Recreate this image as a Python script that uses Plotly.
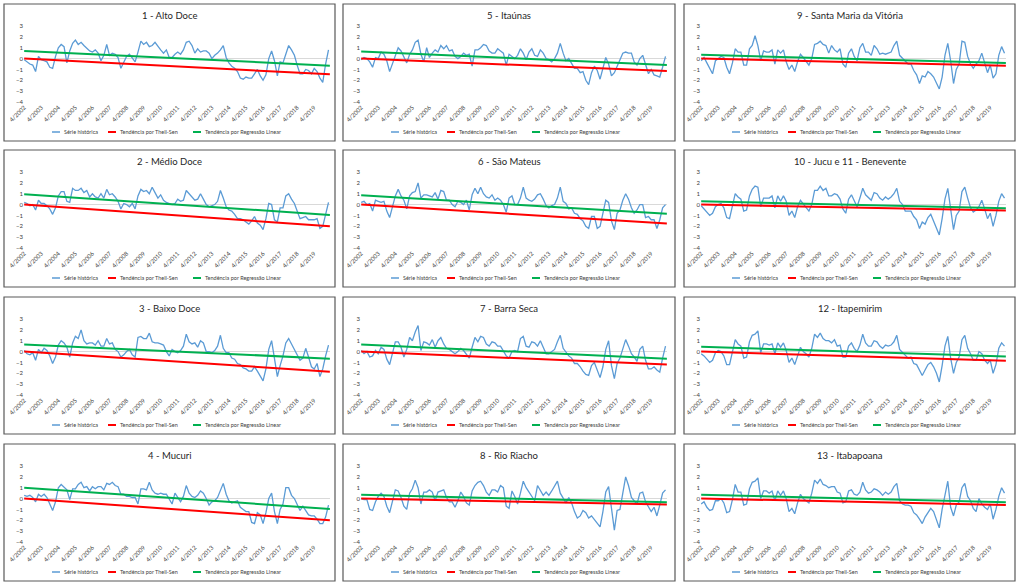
import pandas as pd
import plotly.graph_objects as go

# ---------------- data ----------------
MONTHS = pd.date_range("2002-04-01", periods=108, freq="2MS")  # bimonthly sampling of the monthly series
TREND_DATES = ["2002-04-01", "2020-03-01"]
X_RANGE = ["2002-03-28", "2020-03-04"]
TICK_DATES = [f"{y}-04-01" for y in range(2002, 2020)]
TICK_LABELS = [f"4/{y}" for y in range(2002, 2020)]

TITLES = ["1 - Alto Doce", "5 - Itaúnas", "9 - Santa Maria da Vitória",
          "2 - Médio Doce", "6 - São Mateus", "10 - Jucu e 11 - Benevente",
          "3 - Baixo Doce", "7 - Barra Seca", "12 - Itapemirim",
          "4 - Mucuri", "8 - Rio Riacho", "13 - Itabapoana"]

ALTO_DOCE = [-0.1, -0.3, -0.5, -0.6, -1.2, 0.2, -0.1, -0.2, -0.3, -0.8,
             -0.9, 0.2, 1.0, 1.3, 1.1, -0.4, 0.7, 1.4, 1.7, 1.3,
             1.5, 1.2, 0.9, 0.7, 0.6, 0.8, 0.5, -0.2, 0.3, 1.3,
             0.3, 0.5, 0.4, 0.1, -0.9, -0.3, 0.2, 0.4, 0.1, -0.3,
             0.6, 1.6, 1.3, 1.5, 1.1, 1.2, 1.5, 1.1, 0.8, 0.5,
             0.8, 0.1, 0.1, 0.4, 0.6, 0.4, 0.8, 1.5, 1.6, 1.2,
             0.5, 0.9, 0.6, 0.7, 0.7, 0.5, 0.0, 0.3, 0.5, 0.8,
             1.2, 0.1, -0.4, -0.7, -0.9, -1.2, -1.8, -1.9, -1.7, -1.8,
             -1.8, -1.4, -1.0, -1.6, -2.0, -1.5, 0.0, 0.7, -0.2, -1.6,
             -0.3, -0.4, 0.5, 1.2, 0.8, 0.3, -0.6, -1.4, -1.4, -1.0,
             -1.1, -1.4, -0.9, -1.2, -1.8, -2.2, -0.5, 0.8]

ITAUNAS = [-0.1, 0.1, 0.0, -0.3, -0.8, 0.1, 0.0, 0.6, 0.4, -0.2,
           -1.2, -0.4, 0.3, 1.0, 0.7, 0.1, -0.4, 0.4, 0.8, 1.5,
           1.7, 0.4, -0.3, 1.0, 0.1, 0.5, 0.8, 0.6, 1.2, 0.9,
           1.2, 0.7, 0.8, 0.2, 0.0, 0.2, 0.5, 0.3, 0.4, -0.7,
           0.8, 0.8, 1.0, 1.3, 1.2, 0.7, 0.5, 0.5, 0.9, 0.7,
           0.5, -0.6, 0.4, 0.2, 0.0, 0.3, 0.9, 0.5, -0.1, 0.6,
           0.9, 0.3, 0.2, 0.8, 0.5, 0.0, -0.1, -0.3, 0.0, 0.5,
           1.4, 0.5, -0.2, 0.0, -0.5, -0.9, -0.9, -1.3, -1.2, -2.0,
           -2.4, -1.3, -0.7, -1.1, -1.9, -0.9, 0.1, -0.5, -1.6, -1.3,
           -0.7, -0.2, 0.5, 0.6, 0.5, 0.5, -0.3, -0.6, 0.0, 0.3,
           -0.6, -1.4, -1.0, -1.5, -1.6, -1.7, -0.8, 0.2]

SANTA_MARIA_VITORIA = [-0.2, 0.1, -0.4, -0.9, -1.4, -0.2, 0.0, 0.2, 0.1, -0.8,
                       -1.4, -0.4, 0.9, 0.6, 0.6, -0.6, -0.6, 0.9, 1.2, 2.1,
                       1.2, -0.2, 0.7, 0.6, 0.6, 0.8, -0.5, 0.8, 0.5, 0.8,
                       -0.3, -1.0, -0.6, -1.2, -0.3, 0.4, 0.1, -0.2, -0.6, 0.0,
                       1.3, 1.4, 1.6, 1.3, 1.2, 0.5, 1.2, 0.8, 0.6, 0.9,
                       -0.5, -0.8, 0.5, 0.9, 0.2, -0.2, 1.0, 1.4, 0.6, 0.6,
                       0.3, 1.2, 0.9, 0.4, 0.5, 0.4, 0.5, 0.6, 1.2, 1.6,
                       0.3, 0.0, -0.3, -0.5, -0.5, -1.1, -1.5, -2.3, -1.6, -1.7,
                       -1.2, -1.4, -1.7, -2.3, -2.8, -1.7, 0.3, 1.4, -0.2, -2.3,
                       -1.0, -0.5, 1.6, 1.5, 0.2, -0.5, -0.9, -0.5, -0.2, 0.5,
                       -0.5, -1.3, -0.6, -1.8, -1.4, 0.3, 1.1, 0.5]

MEDIO_DOCE = [0.2, 0.1, -0.1, 0.0, -0.5, 0.4, 0.1, 0.1, -0.1, -0.4,
              -0.9, -0.3, 0.8, 1.2, 1.2, 0.3, 0.2, 1.5, 1.3, 1.3,
              1.5, 1.1, 1.3, 0.7, 1.0, 0.7, 0.6, 1.0, 0.6, 1.4,
              0.9, 1.0, 0.7, 0.3, -0.4, 0.1, 0.0, -0.2, 0.1, -0.4,
              0.8, 1.4, 1.2, 1.3, 1.0, 1.6, 1.1, 0.6, 0.9, 0.4,
              0.2, 0.1, 0.0, 0.1, 0.5, 0.3, 0.4, 1.3, 1.0, 0.6,
              0.4, 0.5, 1.0, 0.5, 0.0, -0.2, -0.1, 0.0, 0.3, 1.3,
              0.6, -0.2, -0.5, -0.6, -0.9, -1.3, -1.3, -1.4, -1.6, -1.8,
              -1.5, -1.1, -1.7, -1.9, -2.3, -1.3, 0.1, 0.0, -1.4, -1.6,
              -0.3, -0.3, 0.8, 1.0, 0.5, 0.1, -0.6, -1.3, -1.2, -1.1,
              -1.4, -1.4, -1.4, -1.3, -2.2, -2.0, -0.8, 0.2]

SAO_MATEUS = [0.2, 0.3, 0.0, 0.1, -0.6, 0.4, 0.3, 0.2, 0.3, -0.6,
              -1.2, -0.3, 0.8, 1.4, 0.8, 0.4, -0.4, 0.8, 1.1, 1.2,
              2.0, 0.6, 0.9, 0.9, 0.8, 0.7, 1.1, 0.5, 1.3, 1.2,
              0.4, 0.4, 0.0, -0.2, 0.3, 0.2, 0.0, 0.4, -0.5, 0.9,
              1.5, 1.0, 1.6, 1.0, 0.7, 0.6, 0.9, 0.4, 0.6, 0.4,
              0.0, -0.7, 0.6, 0.8, 0.0, 0.0, 0.6, 1.6, 0.6, 0.4,
              0.3, 0.5, 0.9, 1.0, 0.5, -0.1, -0.3, -0.1, 0.0, 0.6,
              1.6, 0.3, 0.1, -0.4, -0.3, -0.8, -0.9, -1.3, -1.5, -2.0,
              -2.2, -1.1, -1.1, -2.2, -2.0, -0.7, 0.4, 0.2, -1.5, -2.3,
              -0.8, -0.5, 0.4, 1.0, 0.5, -0.3, -0.8, -0.5, 0.0, 0.0,
              -1.2, -1.1, -1.4, -1.4, -2.2, -1.4, -0.3, 0.0]

JUCU_BENEVENTE = [-0.1, -0.4, -0.6, -1.0, -0.8, -0.2, 0.0, 0.1, -0.3, -1.2,
                  -1.3, -0.1, 1.0, 0.7, 0.5, -0.6, -0.5, 0.8, 1.4, 1.7,
                  1.6, -0.2, 0.6, 0.6, 0.6, 0.8, -0.3, 0.8, 0.3, 0.8,
                  0.3, -1.0, -0.6, -1.2, -0.2, 0.4, 0.1, -0.2, -0.6, 0.0,
                  1.3, 1.3, 1.7, 1.3, 1.5, 0.8, 0.8, 1.0, 0.9, 0.5,
                  -0.4, -0.8, 0.5, 0.9, 0.3, -0.2, 0.6, 1.5, 0.9, 0.6,
                  0.4, 1.1, 1.0, 0.6, 0.4, 0.7, 0.5, 0.7, 1.0, 1.5,
                  0.3, 0.0, -0.6, -0.6, -0.6, -1.1, -1.4, -2.2, -1.6, -1.8,
                  -1.2, -0.9, -1.5, -2.2, -2.8, -1.3, 0.5, 1.5, -0.2, -2.3,
                  -1.0, -0.6, 1.2, 1.6, 0.6, -0.3, -0.7, -0.5, -0.2, 0.4,
                  -0.4, -1.3, -0.8, -2.0, -1.0, 0.3, 1.0, 0.6]

BAIXO_DOCE = [0.1, -0.2, -0.3, -0.1, -0.8, 0.2, -0.1, 0.3, 0.1, -0.4,
              -1.1, -0.5, 0.6, 1.0, 0.8, 0.4, -0.5, 0.8, 1.4, 1.2,
              2.0, 1.0, 0.7, 0.8, 0.8, 0.6, 1.0, 0.5, 0.5, 1.2,
              0.7, 0.8, 0.2, 0.0, -0.5, -0.3, 0.0, 0.2, -0.3, -0.5,
              1.3, 1.4, 1.2, 1.2, 1.7, 0.9, 0.8, 0.8, 0.7, 0.6,
              0.0, -0.4, 0.2, 0.0, -0.1, 0.1, 0.5, 1.6, 0.9, 0.7,
              0.8, 0.4, 1.0, 0.8, 0.0, 0.0, -0.1, 0.1, 0.5, 1.5,
              0.3, -0.1, -0.1, -0.6, -0.7, -1.1, -1.2, -1.5, -1.6, -1.8,
              -1.8, -1.4, -1.8, -2.3, -2.7, -1.6, 0.2, 1.0, -0.6, -2.3,
              -1.3, -0.4, 0.8, 1.2, 0.7, 0.2, -0.2, -0.8, -0.6, 0.3,
              -0.5, -1.4, -1.6, -1.1, -2.3, -1.6, -0.4, 0.6]

BARRA_SECA = [0.1, -0.2, 0.0, -0.5, -0.4, 0.1, -0.2, 0.4, 0.2, -0.7,
              -1.2, -0.2, 0.9, 0.9, 0.4, -0.5, 0.2, 1.3, 1.0, 1.8,
              2.4, 0.1, 0.9, 0.8, 0.6, 1.1, 0.4, 1.0, 1.3, 0.7,
              0.3, 0.2, 0.0, -0.2, 0.0, 0.3, 0.1, -0.2, -0.6, 0.4,
              1.3, 0.9, 1.4, 1.3, 0.7, 0.5, 0.9, 0.8, 0.5, 0.5,
              0.1, -0.4, -0.6, 0.0, 0.1, 0.0, 1.2, 1.4, 0.5, 0.4,
              0.9, 0.8, 0.5, 1.0, 0.4, -0.2, -0.2, 0.0, 0.2, 0.9,
              1.5, 0.3, 0.0, -0.4, -0.6, -1.1, -1.1, -1.4, -1.8, -2.1,
              -2.2, -1.3, -1.0, -1.8, -2.4, -1.4, 0.2, 1.0, -1.3, -2.5,
              -1.1, -0.6, 0.3, 1.1, 0.5, -0.2, -0.5, -0.9, 0.2, 0.5,
              -0.8, -1.6, -1.6, -1.4, -1.7, -1.9, -0.6, 0.5]

ITAPEMIRIM = [-0.2, -0.4, -0.7, -1.0, -0.8, -0.1, 0.1, 0.0, -0.4, -1.2,
              -1.2, -0.1, 1.1, 0.7, 0.5, -0.6, -0.5, 0.9, 1.5, 1.6,
              1.9, -0.1, 0.7, 0.7, 0.6, 0.7, -0.2, 0.8, 0.4, 0.8,
              0.1, -1.0, -0.6, -1.2, -0.3, 0.4, 0.0, -0.2, -0.5, 0.3,
              1.6, 1.3, 1.7, 1.2, 1.0, 1.0, 0.8, 1.1, 0.5, 0.6,
              -0.5, -0.5, 0.5, 0.8, 0.3, 0.0, 0.6, 1.6, 0.8, 0.5,
              0.5, 1.0, 0.9, 0.5, 0.3, 0.6, 0.5, 0.6, 0.9, 1.5,
              0.2, -0.1, -0.3, -0.6, -0.5, -1.1, -1.2, -1.7, -2.2, -1.7,
              -1.2, -1.0, -1.4, -2.0, -2.8, -1.3, 0.5, 1.4, -0.6, -2.0,
              -1.0, -0.5, 1.1, 1.5, 0.3, -0.2, -0.8, -0.8, 0.0, -0.2,
              -0.8, -1.1, -0.8, -2.0, -1.2, 0.3, 0.8, 0.5]

MUCURI = [0.3, 0.2, 0.3, 0.1, -0.3, 0.4, 0.2, 0.4, 0.1, -0.5,
          -1.1, -0.3, 1.0, 1.3, 1.0, 0.8, -0.1, 0.9, 0.9, 1.3,
          1.5, 1.0, 1.1, 0.7, 1.1, 0.9, 1.1, 1.1, 0.8, 1.4,
          1.3, 1.5, 1.2, 1.1, 0.4, 0.4, 0.2, 0.2, 0.1, 0.1,
          -0.5, 0.9, 0.9, 0.8, 1.5, 0.8, 0.5, 0.4, 0.5, 0.4,
          0.4, 0.0, -0.5, 0.5, 0.1, -0.3, 0.2, 1.2, 0.5, 0.2,
          0.1, 0.3, 0.7, 0.5, 0.0, -0.6, -0.3, -0.2, 0.1, 0.8,
          1.4, 0.4, -0.2, -0.4, -0.3, -0.2, -0.8, -1.0, -1.2, -1.2,
          -2.2, -2.3, -1.3, -1.5, -2.3, -1.3, 0.0, 0.5, -1.2, -2.3,
          -1.0, -0.5, 1.0, 1.0, 0.3, 0.0, -0.6, -1.1, -0.7, -1.1,
          -1.5, -1.6, -1.6, -1.9, -2.3, -2.3, -1.7, -0.6]

RIO_RIACHO = [0.0, -0.1, -0.1, -1.0, -1.1, -0.3, 0.2, 0.5, 0.2, -0.7,
              -1.3, -0.2, 0.8, 0.7, 0.1, -0.7, -1.0, 0.5, 0.9, 1.7,
              1.0, -0.5, 0.6, 0.6, 0.8, 0.6, -0.2, 0.6, 0.7, 0.8,
              0.1, -0.3, -0.3, -0.8, -0.2, 0.6, 0.2, -0.4, -0.6, 0.7,
              1.2, 1.5, 1.6, 1.2, 0.6, 0.3, 0.8, 0.8, 0.6, 1.2,
              1.0, -0.7, -0.9, 0.7, 0.2, -0.5, 0.5, 1.6, 1.0, 0.6,
              0.2, -0.2, 1.2, 0.7, 0.3, 0.6, 0.3, 0.7, 1.2, 1.6,
              0.5, 0.1, -0.4, 0.1, -0.4, -1.2, -1.8, -1.6, -1.1, -1.3,
              -1.8, -1.6, -1.9, -2.3, -2.6, -1.2, 0.6, 1.1, -1.0, -2.9,
              -1.1, -1.0, 0.5, 2.0, 1.2, 0.1, -0.2, -0.5, 0.5, 0.6,
              -0.3, -0.7, -1.2, -0.8, -1.6, -0.6, 0.5, 0.8]

ITABAPOANA = [-0.5, -0.3, -0.8, -1.1, -1.0, -0.2, -0.2, 0.0, -0.4, -1.3,
              -1.2, -0.1, 1.3, 0.6, 0.6, -0.6, -0.5, 0.9, 1.5, 1.6,
              1.9, 0.0, 0.7, 0.7, 0.5, 0.7, -0.2, 0.7, 0.3, 0.7,
              0.0, -1.2, -0.9, -1.4, -0.4, 0.4, 0.0, -0.2, -0.4, 0.5,
              1.7, 1.4, 1.8, 1.3, 1.2, 1.0, 1.1, 1.1, 0.6, 0.5,
              -0.4, -0.3, 0.7, 0.8, 0.4, 0.3, 0.6, 1.5, 0.8, 0.5,
              0.6, 0.9, 0.8, 0.6, 0.3, 0.6, 0.4, 0.6, 1.1, 1.4,
              -0.2, -0.5, -0.6, -0.6, -0.7, -1.3, -1.5, -1.9, -2.3, -1.7,
              -1.3, -0.9, -1.2, -1.9, -2.7, -1.0, 0.4, 1.6, -0.8, -1.6,
              -0.6, -0.3, 1.0, 1.4, 0.2, -0.2, -0.9, -1.2, 0.0, -0.5,
              -0.8, -1.0, -0.5, -1.9, -1.0, 0.2, 1.0, 0.5]

SERIES = [ALTO_DOCE, ITAUNAS, SANTA_MARIA_VITORIA,
          MEDIO_DOCE, SAO_MATEUS, JUCU_BENEVENTE,
          BAIXO_DOCE, BARRA_SECA, ITAPEMIRIM,
          MUCURI, RIO_RIACHO, ITABAPOANA]

# trend lines (value at first and last month), same panel order
THEIL_SEN_START = [0.0, 0.0, 0.0, 0.0, 0.0, 0.0, 0.0, 0.0, 0.0, 0.0, 0.0, 0.0]
THEIL_SEN_END = [-1.45, -1.15, -0.65, -2.0, -1.75, -0.55, -1.85, -1.2, -0.85, -2.0, -0.55, -0.6]
LINEAR_START = [0.7, 0.65, 0.35, 0.95, 0.85, 0.3, 0.65, 0.65, 0.45, 1.0, 0.35, 0.35]
LINEAR_END = [-0.65, -0.6, -0.4, -0.95, -0.85, -0.35, -0.65, -0.65, -0.45, -0.95, -0.35, -0.35]

LEGEND_NAMES = ["Série histórica", "Tendência por Theil-Sen", "Tendência por Regressão Linear"]

# ---------------- styling / layout ----------------
W, H = 1024, 585
FONT = "Lato, 'Open Sans', sans-serif"
BLUE, RED, GREEN = "#5B9BD5", "#FF0000", "#00B050"
TXT = "#404040"

BOX_LEFT = [4, 343, 684]
BOX_WIDTH = [331, 332, 331]
PLOT_L = [20, 18, 17]
PLOT_R = [326, 324, 322]
BOX_TOP = [4, 150, 297, 444]
BOX_H = 137


def px(x):
    return x / W


def py(y):
    return 1 - y / H


fig = go.Figure()
shapes = []
annotations = []

for i, (title, vals) in enumerate(zip(TITLES, SERIES)):
    assert len(vals) == len(MONTHS), (title, len(vals))
    r, c = divmod(i, 3)
    n = "" if i == 0 else str(i + 1)
    bl, bt, bw = BOX_LEFT[c], BOX_TOP[r], BOX_WIDTH[c]

    fig.add_trace(go.Scatter(x=MONTHS, y=vals, mode="lines", name=LEGEND_NAMES[0],
                             line=dict(color=BLUE, width=1.3), xaxis="x" + n, yaxis="y" + n,
                             showlegend=False))
    fig.add_trace(go.Scatter(x=TREND_DATES, y=[THEIL_SEN_START[i], THEIL_SEN_END[i]], mode="lines",
                             name=LEGEND_NAMES[1], line=dict(color=RED, width=2),
                             xaxis="x" + n, yaxis="y" + n, showlegend=False))
    fig.add_trace(go.Scatter(x=TREND_DATES, y=[LINEAR_START[i], LINEAR_END[i]], mode="lines",
                             name=LEGEND_NAMES[2], line=dict(color=GREEN, width=2),
                             xaxis="x" + n, yaxis="y" + n, showlegend=False))

    xdom = [px(bl + PLOT_L[c]), px(bl + PLOT_R[c])]
    ydom = [py(bt + 98), py(bt + 22)]
    fig.update_layout(**{
        "xaxis" + n: dict(domain=xdom, anchor="y" + n, type="date", automargin=False,
                          range=X_RANGE,
                          tickvals=TICK_DATES, ticktext=TICK_LABELS, tickangle=-45,
                          tickfont=dict(size=6, color=TXT, family=FONT),
                          showgrid=False, zeroline=False, showline=False, ticks=""),
        "yaxis" + n: dict(domain=ydom, anchor="x" + n, range=[-4, 3], dtick=1, automargin=False,
                          tickfont=dict(size=6, color=TXT, family=FONT),
                          showgrid=False, zeroline=True, zerolinecolor="#d9d9d9",
                          zerolinewidth=1, showline=False, ticks=""),
    })

    # panel frame
    shapes.append(dict(type="rect", xref="paper", yref="paper",
                       x0=px(bl), x1=px(bl + bw), y0=py(bt + BOX_H), y1=py(bt),
                       line=dict(color="#595959", width=1.2), fillcolor="rgba(0,0,0,0)",
                       layer="below"))
    # title
    annotations.append(dict(text=title, xref="paper", yref="paper",
                            x=px(bl + bw / 2), y=py(bt + 11), showarrow=False,
                            xanchor="center", yanchor="middle",
                            font=dict(size=9.5, color="#262626", family=FONT)))
    # legend (drawn inside each panel frame)
    ly = py(bt + 128)
    for (x0, x1, tx), col, name in zip([(48, 56, 58), (104, 112, 114), (189, 197, 199)],
                                       [BLUE, RED, GREEN], LEGEND_NAMES):
        shapes.append(dict(type="line", xref="paper", yref="paper",
                           x0=px(bl + x0), x1=px(bl + x1), y0=ly, y1=ly,
                           line=dict(color=col, width=1.5 if col == BLUE else 2)))
        annotations.append(dict(text=name, xref="paper", yref="paper",
                                x=px(bl + tx), y=ly, showarrow=False,
                                xanchor="left", yanchor="middle",
                                font=dict(size=5.5, color=TXT, family=FONT)))

fig.update_layout(width=W, height=H, margin=dict(l=0, r=0, t=0, b=0, autoexpand=False),
                  paper_bgcolor="white", plot_bgcolor="white",
                  shapes=shapes, annotations=annotations, showlegend=False,
                  font=dict(family=FONT))

fig.write_html("out.html", config={"displayModeBar": False},
               post_script="document.body.style.margin='0px';")
